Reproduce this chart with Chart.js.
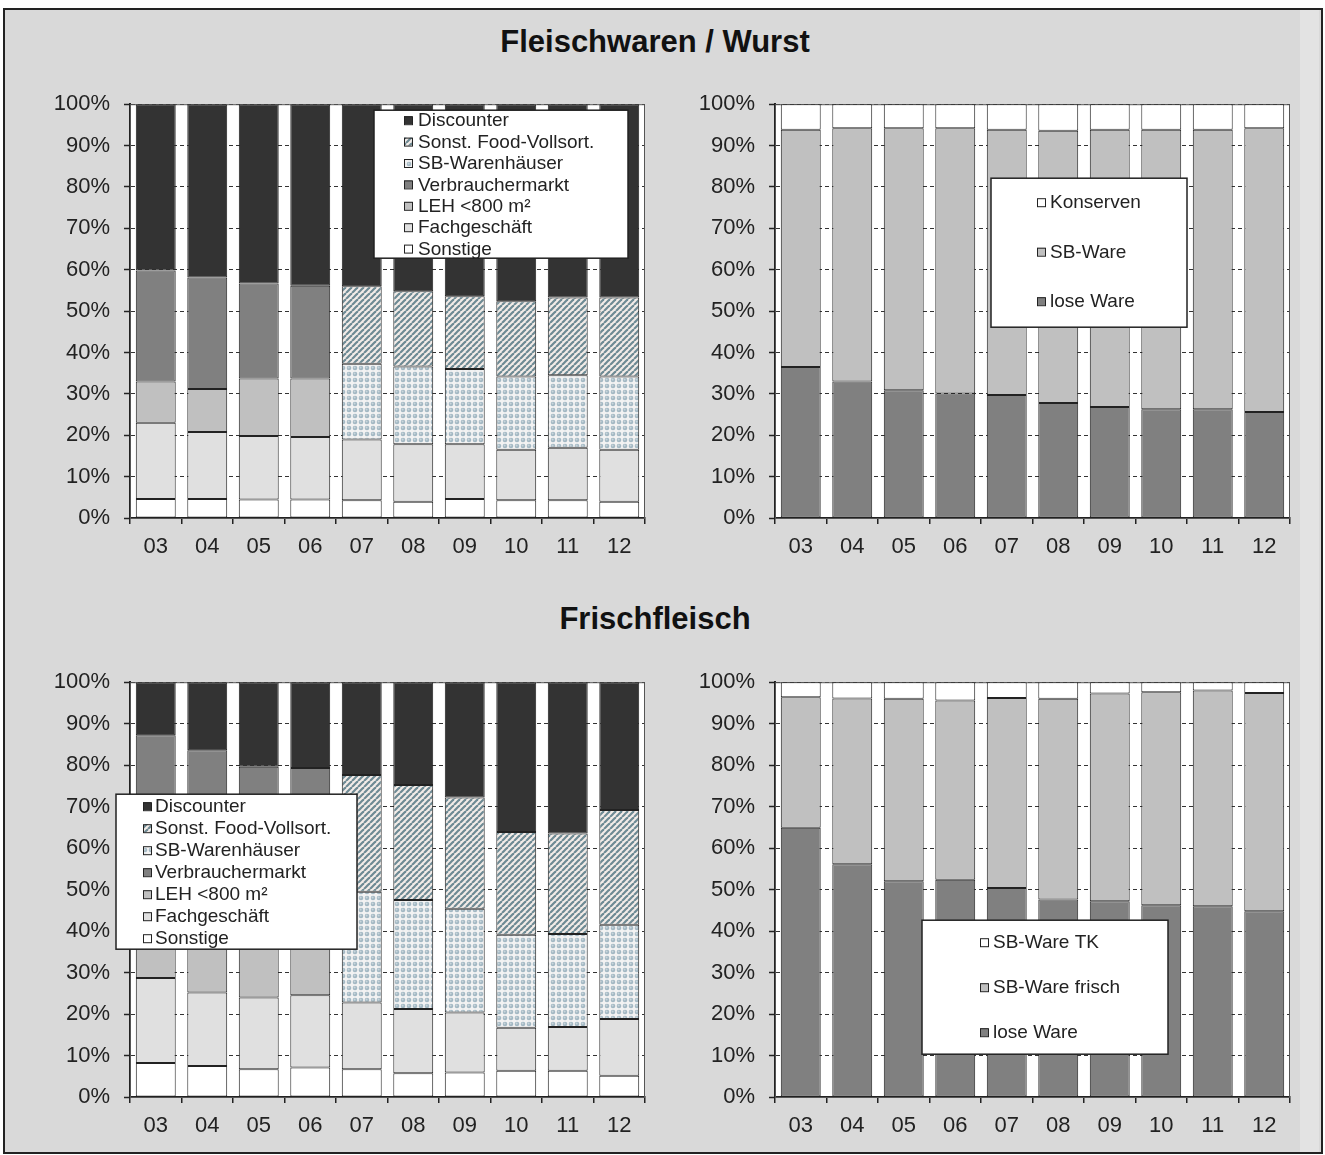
<!DOCTYPE html>
<html>
<head>
<meta charset="utf-8">
<script src="https://cdn.jsdelivr.net/npm/chart.js@4.4.1/dist/chart.umd.min.js"></script>
<style>
body { margin: 0; background: #fff; width: 1325px; height: 1155px; position: relative; overflow: hidden; font-family: "Liberation Sans", Arial, sans-serif; }
#frame { position: absolute; left: 3px; top: 8px; width: 1316px; height: 1142px; border: 2px solid #222; background: #d9d9d9; }
#strip { position: absolute; left: 1300px; top: 10px; width: 19px; height: 1142px; background: #e3e3e3; }
.title { position: absolute; left: 0; width: 1310px; text-align: center; font-weight: bold; font-size: 31px; line-height: 34px; color: #111; }
.box { position: absolute; }
</style>
</head>
<body>
<div id="frame"></div>
<div id="strip"></div>
<div class="title" style="top:25px">Fleischwaren / Wurst</div>
<div class="title" style="top:602px">Frischfleisch</div>
<div class="box" style="left:40px;top:77px"><canvas id="c1" width="620" height="488"></canvas></div>
<div class="box" style="left:685px;top:77px"><canvas id="c2" width="620" height="488"></canvas></div>
<div class="box" style="left:40px;top:655px"><canvas id="c3" width="620" height="489"></canvas></div>
<div class="box" style="left:685px;top:655px"><canvas id="c4" width="620" height="489"></canvas></div>
<script>
var years = ["03", "04", "05", "06", "07", "08", "09", "10", "11", "12"];

// Fleischwaren / Wurst - Einkaufsstaetten (Anteile in %)
var fwSonstige   = [4.6, 4.6, 4.5, 4.5, 4.3, 3.9, 4.6, 4.3, 4.3, 3.9];
var fwFach       = [18.4, 16.2, 15.3, 15.1, 14.7, 13.9, 13.2, 12.2, 12.7, 12.6];
var fwLeh        = [10.0, 10.4, 13.9, 14.1, null, null, null, null, null, null];
var fwVm         = [26.8, 26.9, 23.0, 22.4, null, null, null, null, null, null];
var fwSbw        = [null, null, null, null, 18.3, 18.8, 18.2, 17.7, 17.5, 17.7];
var fwFood       = [null, null, null, null, 18.7, 18.2, 17.6, 18.2, 18.8, 19.1];
var fwDiscounter = [40.2, 41.9, 43.3, 43.9, 44.0, 45.2, 46.4, 47.6, 46.7, 46.7];

// Fleischwaren / Wurst - Angebotsform
var fwLose      = [36.5, 33.0, 30.9, 30.1, 29.7, 27.8, 26.8, 26.3, 26.3, 25.6];
var fwSbWare    = [57.3, 61.2, 63.3, 64.1, 64.1, 65.8, 67.0, 67.5, 67.5, 68.6];
var fwKonserven = [6.2, 5.8, 5.8, 5.8, 6.2, 6.4, 6.2, 6.2, 6.2, 5.8];

// Frischfleisch - Einkaufsstaetten
var ffSonstige   = [8.2, 7.5, 6.7, 7.1, 6.7, 5.7, 5.9, 6.3, 6.3, 5.1];
var ffFach       = [20.5, 17.7, 17.3, 17.4, 16.1, 15.5, 14.5, 10.4, 10.6, 13.7];
var ffLeh        = [17.3, 18.8, 18.0, 18.5, null, null, null, null, null, null];
var ffVm         = [41.2, 39.6, 37.6, 36.3, null, null, null, null, null, null];
var ffSbw        = [null, null, null, null, 26.7, 26.3, 25.0, 22.4, 22.4, 22.7];
var ffFood       = [null, null, null, null, 28.1, 27.7, 26.8, 24.8, 24.2, 27.7];
var ffDiscounter = [12.8, 16.4, 20.4, 20.7, 22.4, 24.8, 27.8, 36.1, 36.5, 30.8];

// Frischfleisch - Angebotsform
var ffLose     = [64.9, 56.1, 52.0, 52.4, 50.4, 47.6, 47.2, 46.2, 46.0, 44.8];
var ffSbFrisch = [31.5, 40.0, 44.0, 43.2, 45.8, 48.4, 50.1, 51.4, 52.0, 52.6];
var ffSbTk     = [3.6, 3.9, 4.0, 4.4, 3.8, 4.0, 2.7, 2.4, 2.0, 2.6];

Chart.defaults.font.family = '"Liberation Sans", Arial, sans-serif';
Chart.defaults.color = '#222';

function stripes() {
    var c = document.createElement('canvas');
    c.width = 6; c.height = 6;
    var g = c.getContext('2d');
    g.fillStyle = '#f3ece8';
    g.fillRect(0, 0, 6, 6);
    g.strokeStyle = '#6e8a94';
    g.lineWidth = 2.2;
    [-6, 0, 6].forEach(function(o) {
        g.beginPath(); g.moveTo(o, 6); g.lineTo(o + 6, 0); g.stroke();
    });
    return g.createPattern(c, 'repeat');
}

function dots() {
    var c = document.createElement('canvas');
    c.width = 6; c.height = 6;
    var g = c.getContext('2d');
    g.fillStyle = '#f2f2f2';
    g.fillRect(0, 0, 6, 6);
    g.fillStyle = '#a3b8c3';
    g.beginPath(); g.arc(3, 3, 2.3, 0, 2 * Math.PI); g.fill();
    g.fillStyle = '#c9d6dc';
    g.beginPath(); g.arc(2.6, 2.6, 1.0, 0, 2 * Math.PI); g.fill();
    return g.createPattern(c, 'repeat');
}

var hatch = stripes();
var dotted = dots();

// white plot area + thin frame
var plotBg = {
    id: 'plotBg',
    beforeDraw: function(chart) {
        var a = chart.chartArea, ctx = chart.ctx;
        ctx.save();
        ctx.fillStyle = '#fff';
        ctx.fillRect(a.left, a.top, a.right - a.left, a.bottom - a.top);
        ctx.restore();
    },
    beforeDatasetsDraw: function(chart) {
        var a = chart.chartArea, ctx = chart.ctx;
        ctx.save();
        ctx.strokeStyle = '#555';
        ctx.lineWidth = 1;
        ctx.strokeRect(a.left + 0.5, a.top + 0.5, a.right - a.left - 1, a.bottom - a.top);
        ctx.restore();
    }
};

// boxed legend inside the plot, Excel style
var boxLegend = {
    id: 'boxLegend',
    afterDatasetsDraw: function(chart) {
        var o = chart.options.plugins.boxLegend;
        if (!o || !o.w) return;
        var a = chart.chartArea, ctx = chart.ctx;
        var x = a.left + o.x, y = a.top + o.y;
        ctx.save();
        ctx.fillStyle = '#fff';
        ctx.fillRect(x, y, o.w, o.h);
        ctx.strokeStyle = '#222';
        ctx.lineWidth = 1.5;
        ctx.strokeRect(x, y, o.w, o.h);
        ctx.font = '19px "Liberation Sans", Arial, sans-serif';
        ctx.textBaseline = 'middle';
        var ds = chart.data.datasets.slice().reverse();
        ds.forEach(function(d, i) {
            var ry = a.top + o.rowY + i * o.step;
            var sx = a.left + o.sx;
            ctx.fillStyle = d.backgroundColor;
            ctx.fillRect(sx, ry - 4, 8, 8);
            ctx.strokeStyle = '#222';
            ctx.lineWidth = 1;
            ctx.strokeRect(sx + 0.5, ry - 3.5, 8, 8);
            ctx.fillStyle = '#222';
            ctx.fillText(d.label, a.left + o.tx, ry + 1);
        });
        ctx.restore();
    }
};

function bar(label, data, color) {
    return {
        label: label, data: data, backgroundColor: color,
        borderColor: '#222', borderWidth: 1, borderSkipped: false,
        barPercentage: 0.775, categoryPercentage: 1.0
    };
}

function makeChart(id, datasets, legend) {
    return new Chart(document.getElementById(id), {
        type: 'bar',
        data: { labels: years, datasets: datasets },
        plugins: [plotBg, boxLegend],
        options: {
            responsive: false,
            animation: false,
            layout: { padding: { top: 0, right: 15, left: 0, bottom: 0 } },
            plugins: {
                legend: { display: false },
                tooltip: { enabled: false },
                boxLegend: legend
            },
            scales: {
                x: {
                    stacked: true,
                    grid: { display: true, drawOnChartArea: false, drawTicks: true, tickLength: 6, color: '#222', lineWidth: 1.5 },
                    border: { display: true, color: '#222', width: 2 },
                    ticks: { color: '#222', font: { size: 22 }, padding: 10, maxRotation: 0 },
                    afterFit: function(s) { s.height = 47; }
                },
                y: {
                    stacked: true, min: 0, max: 100,
                    ticks: { stepSize: 10, color: '#222', font: { size: 22 }, padding: 14,
                             callback: function(v) { return v + '%'; } },
                    grid: { color: '#333', lineWidth: 1, tickLength: 6, tickColor: '#222', tickWidth: 1.5, tickBorderDash: [] },
                    border: { display: true, color: '#222', width: 2, dash: [4, 3] },
                    afterFit: function(s) { s.width = 90; }
                }
            }
        }
    });
}

makeChart('c1', [
    bar('Sonstige', fwSonstige, '#ffffff'),
    bar('Fachgeschäft', fwFach, '#e0e0e0'),
    bar('LEH <800 m²', fwLeh, '#c0c0c0'),
    bar('Verbrauchermarkt', fwVm, '#808080'),
    bar('SB-Warenhäuser', fwSbw, dotted),
    bar('Sonst. Food-Vollsort.', fwFood, hatch),
    bar('Discounter', fwDiscounter, '#333333')
], { x: 244, y: 6, w: 254, h: 148, rowY: 16, step: 21.4, sx: 274, tx: 288 });

makeChart('c2', [
    bar('lose Ware', fwLose, '#808080'),
    bar('SB-Ware', fwSbWare, '#c0c0c0'),
    bar('Konserven', fwKonserven, '#ffffff')
], { x: 216, y: 74, w: 196, h: 149, rowY: 98, step: 49.5, sx: 262, tx: 275 });

makeChart('c3', [
    bar('Sonstige', ffSonstige, '#ffffff'),
    bar('Fachgeschäft', ffFach, '#e0e0e0'),
    bar('LEH <800 m²', ffLeh, '#c0c0c0'),
    bar('Verbrauchermarkt', ffVm, '#808080'),
    bar('SB-Warenhäuser', ffSbw, dotted),
    bar('Sonst. Food-Vollsort.', ffFood, hatch),
    bar('Discounter', ffDiscounter, '#333333')
], { x: -14, y: 112, w: 241, h: 155, rowY: 124, step: 22, sx: 13, tx: 25 });

makeChart('c4', [
    bar('lose Ware', ffLose, '#808080'),
    bar('SB-Ware frisch', ffSbFrisch, '#c0c0c0'),
    bar('SB-Ware TK', ffSbTk, '#ffffff')
], { x: 147, y: 238, w: 246, h: 134, rowY: 260, step: 45, sx: 205, tx: 218 });
</script>
</body>
</html>
